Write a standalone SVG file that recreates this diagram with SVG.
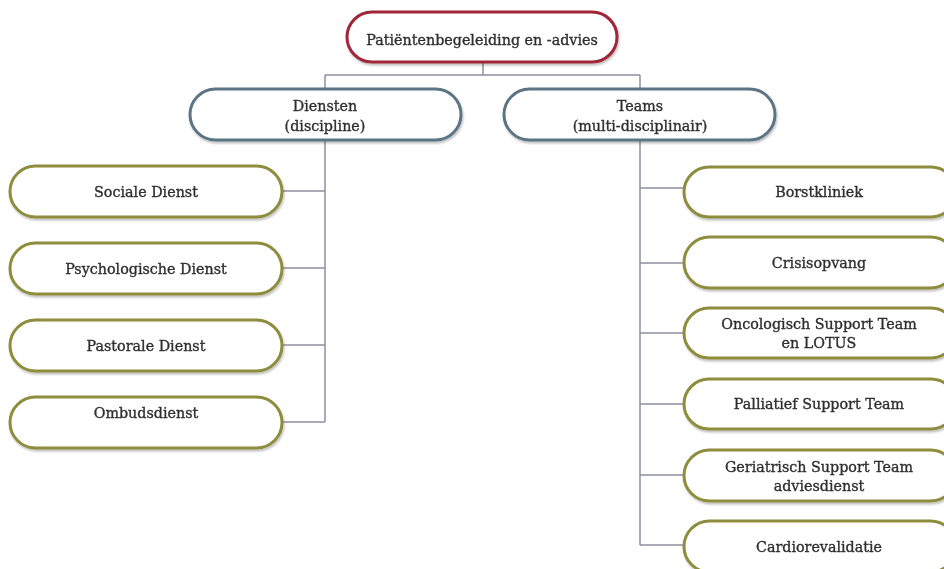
<svg xmlns="http://www.w3.org/2000/svg" width="944" height="569" viewBox="0 0 944 569">
<defs>
<style>
.box{fill:#fff;stroke-width:3}
.top{stroke:#a02638}
.mid{stroke:#5b7485}
.leaf{stroke:#8e8c3c}
.t{font-family:"DejaVu Serif","Liberation Serif",serif;font-size:14.3px;fill:#2f2f2f;stroke:#2f2f2f;stroke-width:0.35;text-anchor:middle}
.c{fill:none;stroke:#8f8fa3;stroke-width:1.5}
</style>
<filter id="sh" x="-5%" y="-10%" width="110%" height="130%">
<feDropShadow dx="1" dy="2" stdDeviation="1.2" flood-color="#000" flood-opacity="0.25"/>
</filter>
</defs>
<rect width="944" height="569" fill="#fff"/>
<g id="connectors" class="c">
<path d="M483 62V75M325 75H640M325 75V89M640 75V89"/>
<path d="M325 140V422M325 191H281M325 268H281M325 345H281M325 422H281"/>
<path d="M640 140V545M640 188H685M640 263H685M640 333H685M640 404H685M640 475H685M640 545H685"/>
</g>
<g id="n-root" filter="url(#sh)"><rect class="box top" x="347" y="12" width="270" height="50" rx="25"/><text class="t" x="482" y="45">Patiëntenbegeleiding en -advies</text></g>
<g id="n-diensten" filter="url(#sh)"><rect class="box mid" x="190" y="89" width="271" height="51" rx="25.5"/><text class="t" x="325" y="111">Diensten</text><text class="t" x="325" y="131">(discipline)</text></g>
<g id="n-teams" filter="url(#sh)"><rect class="box mid" x="504" y="89" width="271" height="51" rx="25.5"/><text class="t" x="640" y="111">Teams</text><text class="t" x="640" y="131">(multi-disciplinair)</text></g>
<g id="n-sociale" filter="url(#sh)"><rect class="box leaf" x="10" y="166" width="272" height="51" rx="25.5"/><text class="t" x="146" y="197">Sociale Dienst</text></g>
<g id="n-psych" filter="url(#sh)"><rect class="box leaf" x="10" y="243" width="272" height="51" rx="25.5"/><text class="t" x="146" y="274">Psychologische Dienst</text></g>
<g id="n-pastorale" filter="url(#sh)"><rect class="box leaf" x="10" y="320" width="272" height="51" rx="25.5"/><text class="t" x="146" y="351">Pastorale Dienst</text></g>
<g id="n-ombuds" filter="url(#sh)"><rect class="box leaf" x="10" y="397" width="272" height="51" rx="25.5"/><text class="t" x="146" y="418">Ombudsdienst</text></g>
<g id="n-borst" filter="url(#sh)"><rect class="box leaf" x="684" y="167" width="272" height="50" rx="25"/><text class="t" x="819" y="197">Borstkliniek</text></g>
<g id="n-crisis" filter="url(#sh)"><rect class="box leaf" x="684" y="237" width="272" height="51" rx="25.5"/><text class="t" x="819" y="268">Crisisopvang</text></g>
<g id="n-onco" filter="url(#sh)"><rect class="box leaf" x="684" y="308" width="272" height="50" rx="25"/><text class="t" x="819" y="329">Oncologisch Support Team</text><text class="t" x="819" y="348">en LOTUS</text></g>
<g id="n-pall" filter="url(#sh)"><rect class="box leaf" x="684" y="379" width="272" height="50" rx="25"/><text class="t" x="819" y="409">Palliatief Support Team</text></g>
<g id="n-geri" filter="url(#sh)"><rect class="box leaf" x="684" y="450" width="272" height="51" rx="25.5"/><text class="t" x="819" y="472">Geriatrisch Support Team</text><text class="t" x="819" y="491">adviesdienst</text></g>
<g id="n-cardio" filter="url(#sh)"><rect class="box leaf" x="684" y="521" width="272" height="51" rx="25.5"/><text class="t" x="819" y="552">Cardiorevalidatie</text></g>
</svg>
